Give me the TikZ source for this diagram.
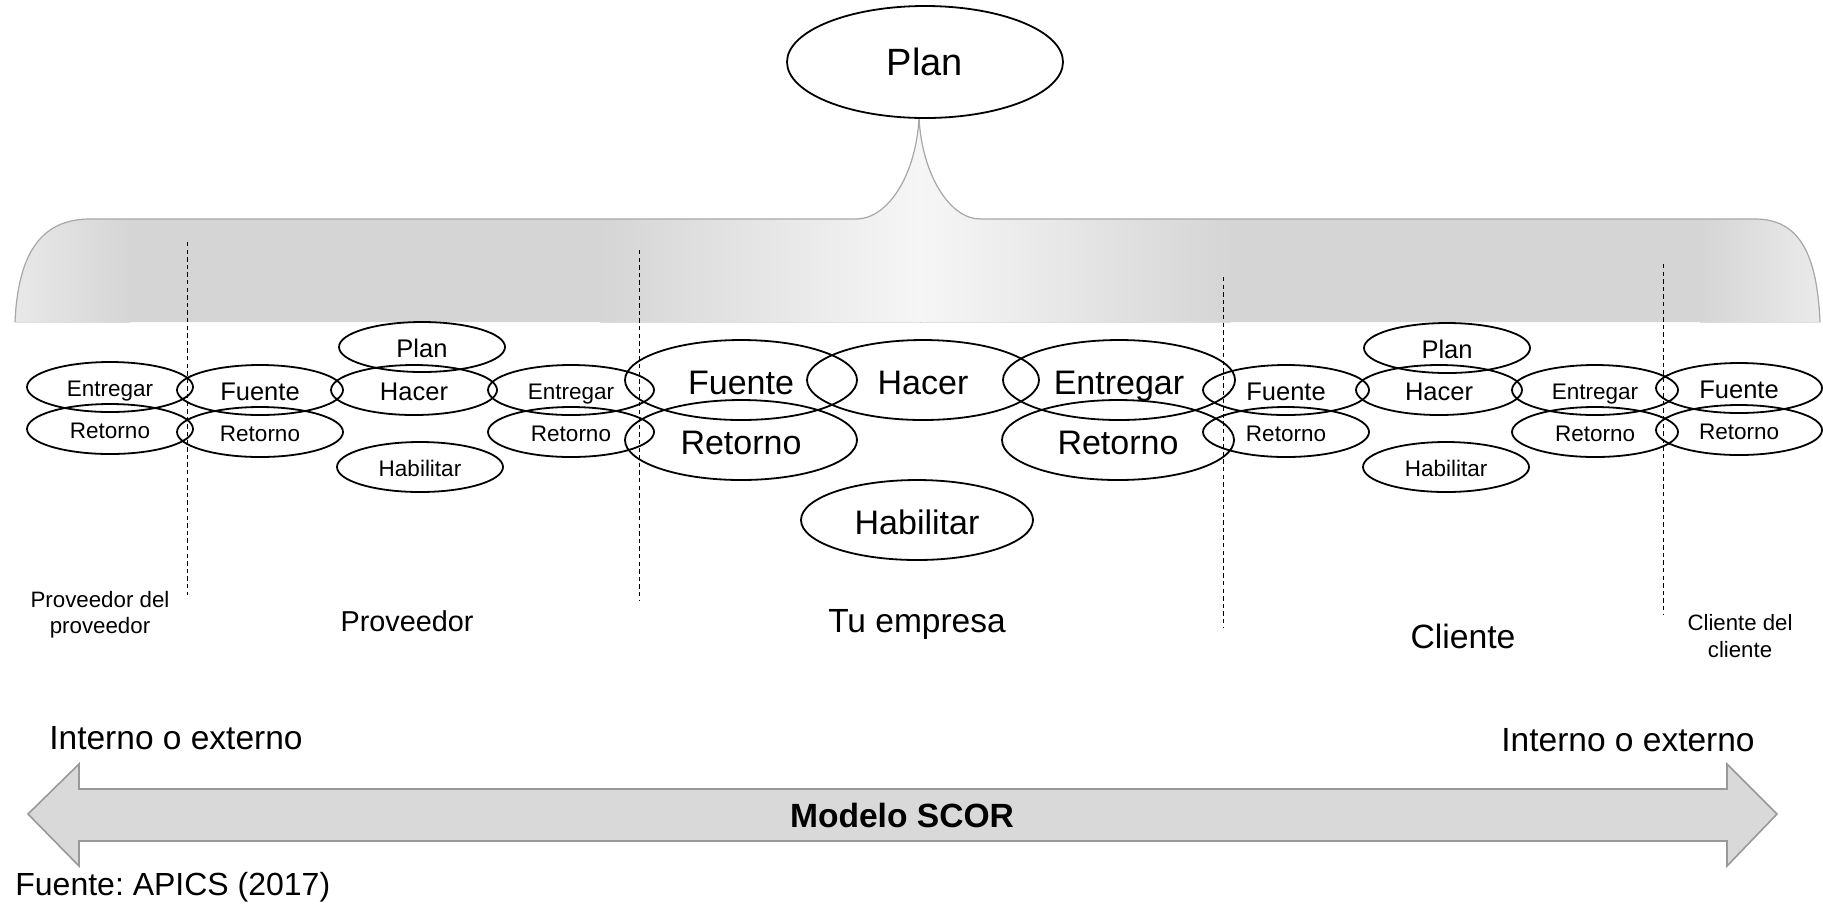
\documentclass[tikz,border=0pt]{standalone}
\usepackage{fontspec}
\setmainfont{Liberation Sans}
\usetikzlibrary{shapes.geometric}
\definecolor{braceDark}{HTML}{D5D5D5}
\definecolor{braceLight}{HTML}{F6F6F6}
\definecolor{braceEdge}{HTML}{EBEBEB}
\definecolor{braceLine}{HTML}{A8A8A8}
\definecolor{arrowFill}{HTML}{D9D9D9}
\definecolor{arrowLine}{HTML}{999999}
\frenchspacing
\begin{document}
\begin{tikzpicture}[x=0.5pt,y=-0.5pt,
  proc/.style={ellipse, draw=black, line width=0.9pt, inner sep=0pt, text depth=0pt},
  small/.style={proc, minimum width=83pt, minimum height=25pt},
  large/.style={proc, minimum width=116pt, minimum height=40pt, text height=14.5pt, font=\fontsize{17}{20}\selectfont},
  txs/.style={text height=9.6pt, font=\fontsize{11.25}{13}\selectfont},
  txm/.style={text height=10.8pt, font=\fontsize{12.75}{15}\selectfont},
  divider/.style={dash pattern=on 2.2pt off 1.6pt, line width=0.4pt},
  lbl/.style={align=center, inner sep=0pt}
]
\useasboundingbox (0,0) rectangle (1823,907);

% shared planning bracket
\def\bracepath{(15,322) .. controls (18,255) and (40,219) .. (90,219)
  -- (856,219) .. controls (888,219) and (916,175) .. (919,118)
  .. controls (922,175) and (950,219) .. (980,219)
  -- (1755,219) .. controls (1800,219) and (1817,255) .. (1820,322) -- cycle}
\begin{scope}
  \clip \bracepath;
  \fill[left color=braceEdge, right color=braceDark] (0,100) rectangle (130,330);
  \fill[braceDark] (129,100) rectangle (601,330);
  \fill[left color=braceDark, right color=braceLight] (600,100) rectangle (921,330);
  \fill[left color=braceLight, right color=braceDark] (920,100) rectangle (1231,330);
  \fill[braceDark] (1230,100) rectangle (1701,330);
  \fill[left color=braceDark, right color=braceEdge] (1700,100) rectangle (1823,330);
\end{scope}
\draw[braceLine, line width=0.6pt] (15,322) .. controls (18,255) and (40,219) .. (90,219)
  -- (856,219) .. controls (888,219) and (916,175) .. (919,118)
  .. controls (922,175) and (950,219) .. (980,219)
  -- (1755,219) .. controls (1800,219) and (1817,255) .. (1820,322);

\node[proc, minimum width=138pt, minimum height=56pt, text height=13.7pt, font=\fontsize{19}{22}\selectfont] (topplan) at (925,62) {Plan};

% dividers between supply-chain tiers
\draw[divider] (187,242) -- (187,595);
\draw[divider] (639,250) -- (639,601);
\draw[divider] (1223,277) -- (1223,628);
\draw[divider] (1663,264) -- (1663,614);

% supplier's supplier
\node[small, txs] (ppEnt) at (110,387) {Entregar};
\node[small, txs] (ppRet) at (110,429) {Retorno};

% supplier
\node[small, txm] (pPlan) at (422,347) {Plan};
\node[small, txm] (pFue) at (260,390) {Fuente};
\node[small, txm] (pHac) at (414,390) {Hacer};
\node[small, txs] (pEnt) at (571,390) {Entregar};
\node[small, txs] (pRetA) at (260,432) {Retorno};
\node[small, txs] (pRetB) at (571,432) {Retorno};
\node[small, txs] (pHab) at (420,467) {Habilitar};

% your company
\node[large] (eFue) at (741,380) {Fuente};
\node[large] (eHac) at (923,380) {Hacer};
\node[large] (eEnt) at (1119,380) {Entregar};
\node[large] (eRetA) at (741,440) {Retorno};
\node[large] (eRetB) at (1118,440) {Retorno};
\node[large] (eHab) at (917,520) {Habilitar};

% customer
\node[small, txm] (cPlan) at (1447,348) {Plan};
\node[small, txm] (cFue) at (1286,390) {Fuente};
\node[small, txm] (cHac) at (1439,390) {Hacer};
\node[small, txs] (cEnt) at (1595,390) {Entregar};
\node[small, txs] (cRetA) at (1286,432) {Retorno};
\node[small, txs] (cRetB) at (1595,432) {Retorno};
\node[small, txs] (cHab) at (1446,467) {Habilitar};

% customer's customer
\node[small, txm] (ccFue) at (1739,388) {Fuente};
\node[small, txs] (ccRet) at (1739,430) {Retorno};

% tier labels
\node[lbl, font=\fontsize{11.15}{13}\selectfont] (lblPP) at (100,615) {Proveedor del\\proveedor};
\node[lbl, font=\fontsize{14.4}{17}\selectfont] (lblP) at (407,621) {Proveedor};
\node[lbl, font=\fontsize{16.75}{20}\selectfont] (lblE) at (917,624) {Tu empresa};
\node[lbl, font=\fontsize{16.85}{20}\selectfont] (lblC) at (1463,636) {Cliente};
\node[lbl, font=\fontsize{11.1}{13.5}\selectfont] (lblCC) at (1740,636) {Cliente del\\cliente};

% SCOR double arrow
\filldraw[fill=arrowFill, draw=arrowLine, line width=0.8pt]
  (28,814) -- (79,764) -- (79,789) -- (1727,789) -- (1727,764) -- (1777,814)
  -- (1727,866) -- (1727,841) -- (79,841) -- (79,866) -- cycle;
\node[lbl, font=\fontsize{16.8}{20}\bfseries\selectfont] (scor) at (902,815) {Modelo SCOR};
\node[lbl, font=\fontsize{16.75}{20}\selectfont] (ieL) at (176,738) {Interno o externo};
\node[lbl, font=\fontsize{16.75}{20}\selectfont] (ieR) at (1628,740) {Interno o externo};

\node[lbl, anchor=west, font=\fontsize{16}{19}\selectfont] (src) at (15,887) {Fuente: APICS (2017)};
\end{tikzpicture}
\end{document}
